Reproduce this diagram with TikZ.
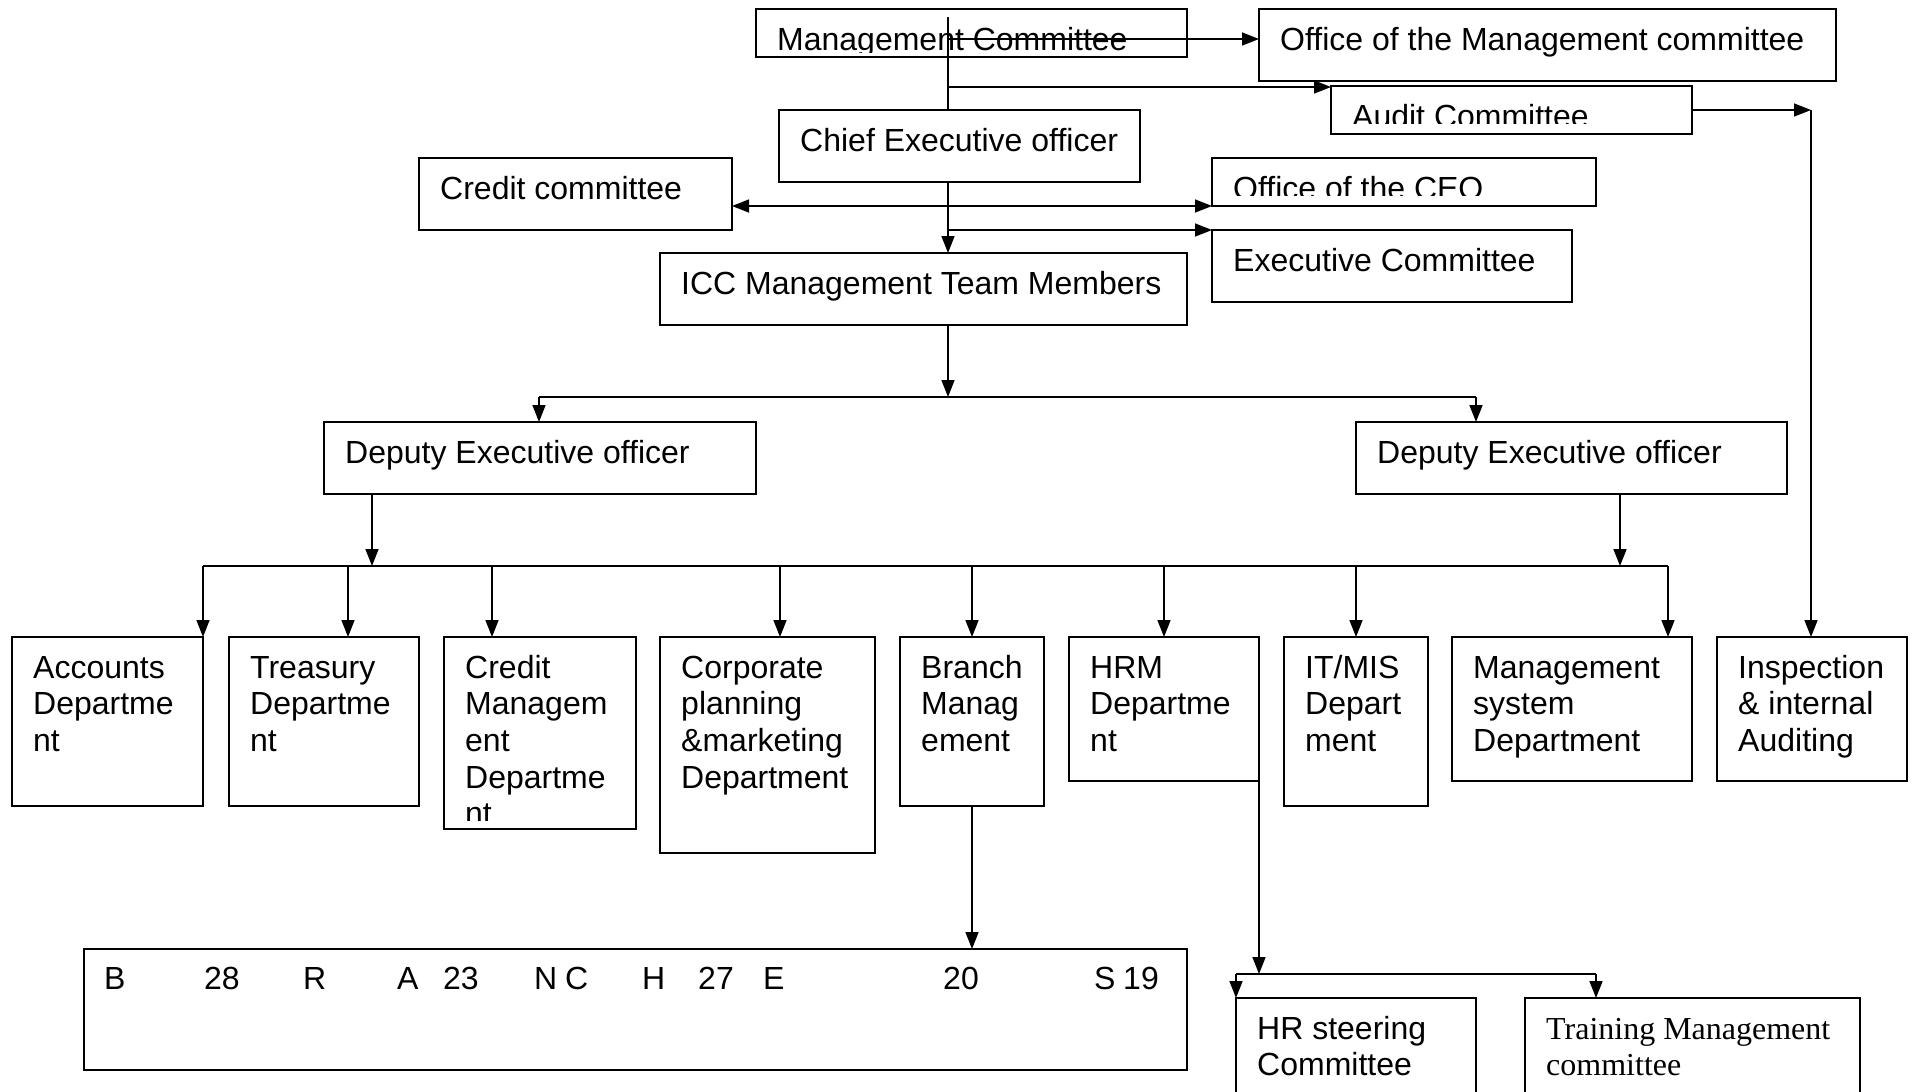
\documentclass[tikz,border=0pt]{standalone}
\usepackage{fontspec}
\setmainfont{Liberation Sans}
\newfontfamily\tnrfont{Liberation Serif}
\usetikzlibrary{arrows.meta,calc}
\tikzset{
  box/.style={draw, line width=1.6pt, rectangle, inner sep=0pt, outer sep=0pt, anchor=north west},
  conn/.style={line width=1.6pt},
  arr/.style={conn, -{Triangle[length=17pt,width=13pt]}},
  darr/.style={conn, {Triangle[length=17pt,width=13pt]}-{Triangle[length=17pt,width=13pt]}},
  txt/.style={anchor=base west, inner sep=0pt, font=\fontsize{32}{36.7}\selectfont},
}
% #1 name, #2 x1, #3 y1, #4 x2, #5 y2, #6 clip y, #7 text
\newcommand\orgbox[7]{%
  \node[box, minimum width={(#4-#2)*1pt}, minimum height={(#5-#3)*1pt}] (#1) at (#2,#3) {};
  \begin{scope}
    \clip (#2,#3) rectangle (#4,#6);
    \node[txt] at (#2+21,#3+41) {\parbox[t]{2000pt}{#7}};
  \end{scope}}
\begin{document}
\begin{tikzpicture}[x=1pt,y=-1pt]
\useasboundingbox (0,0) rectangle (1917,1092);
% top part
\orgbox{mc}{756}{9}{1187}{57}{52}{Management Committee}
\orgbox{omc}{1259}{9}{1836}{81}{81}{Office of the Management committee}
\orgbox{audit}{1331}{86}{1692}{134}{123}{Audit Committee}
\orgbox{ceo}{779}{110}{1140}{182}{182}{Chief Executive officer}
\orgbox{credit}{419}{158}{732}{230}{230}{Credit committee}
\orgbox{oceo}{1212}{158}{1596}{206}{195}{Office of the CEO}
\orgbox{exec}{1212}{230}{1572}{302}{302}{Executive Committee}
\orgbox{icc}{660}{253}{1187}{325}{325}{ICC Management Team Members}
\orgbox{depL}{324}{422}{756}{494}{494}{Deputy Executive officer}
\orgbox{depR}{1356}{422}{1787}{494}{494}{Deputy Executive officer}
% departments
\orgbox{acc}{12}{637}{203}{806}{806}{Accounts\\Departme\\nt}
\orgbox{tre}{229}{637}{419}{806}{806}{Treasury\\Departme\\nt}
\orgbox{crm}{444}{637}{636}{829}{820}{Credit\\Managem\\ent\\Departme\\nt}
\orgbox{cor}{660}{637}{875}{853}{853}{Corporate\\planning\\\&marketing\\Department}
\orgbox{bra}{900}{637}{1044}{806}{806}{Branch\\Manag\\ement}
\orgbox{hrm}{1069}{637}{1259}{781}{781}{HRM\\Departme\\nt}
\orgbox{it}{1284}{637}{1428}{806}{806}{IT/MIS\\Depart\\ment}
\orgbox{mgs}{1452}{637}{1692}{781}{781}{Management\\system\\Department}
\orgbox{ins}{1717}{637}{1907}{781}{781}{Inspection\\\& internal\\Auditing}
% bottom
\node[box, minimum width=1103pt, minimum height=121pt] (big) at (84,949) {};
\foreach \t/\x in {B/104, 28/204, R/303, A/397, 23/443, N/534, C/565, H/642, 27/698, E/763, 20/943, S/1094, 19/1123}
  \node[txt] at (\x,989) {\t};
\orgbox{hrs}{1236}{998}{1476}{1110}{1110}{HR steering\\Committee}
\orgbox{tm}{1525}{998}{1860}{1110}{1110}{\tnrfont Training Management\\committee}
% connectors
\coordinate (s0) at (948,17);
\draw[conn] (s0) -- (s0 |- ceo.north);
\coordinate (s1) at (948,39);
\draw[arr] (s1) -- (s1 -| omc.west);
\coordinate (s2) at (948,87);
\draw[arr] (s2) -- (s2 -| audit.west);
\coordinate (s3) at (1811,110);
\draw[arr] (s3 -| audit.east) -- (s3);
\draw[arr] (s3) -- (s3 |- ins.north);
\draw[arr] (s0 |- ceo.south) -- (s0 |- icc.north);
\draw[darr] (credit.east |- oceo.south) -- (oceo.south west);
\draw[arr] (s0 |- exec.north) -- (exec.north west);
\coordinate (b1) at (948,397);
\draw[arr] (b1 |- icc.south) -- (b1);
\coordinate (b1l) at (539,397);
\coordinate (b1r) at (1476,397);
\draw[conn] (b1l) -- (b1r);
\draw[arr] (b1l) -- (b1l |- depL.north);
\draw[arr] (b1r) -- (b1r |- depR.north);
\coordinate (dl) at (372,566);
\coordinate (dr) at (1620,566);
\draw[arr] (dl |- depL.south) -- (dl);
\draw[arr] (dr |- depR.south) -- (dr);
\coordinate (b2a) at (203,566);
\coordinate (b2b) at (1668,566);
\draw[conn] (b2a) -- (b2b);
\foreach \n/\x in {acc/203, tre/348, crm/492, cor/780, bra/972, hrm/1164, it/1356, mgs/1668}
  \draw[arr] (\x,0 |- b2a) -- (\x,0 |- \n.north);
\draw[arr] (bra.south) -- (bra.south |- big.north);
\coordinate (b3) at (1259,974);
\coordinate (b3r) at (1596,974);
\draw[arr] (hrm.south east) -- (b3);
\draw[conn] (b3 -| hrs.west) -- (b3r);
\draw[arr] (b3 -| hrs.west) -- (hrs.north west);
\draw[arr] (b3r) -- (b3r |- tm.north);
\end{tikzpicture}
\end{document}
